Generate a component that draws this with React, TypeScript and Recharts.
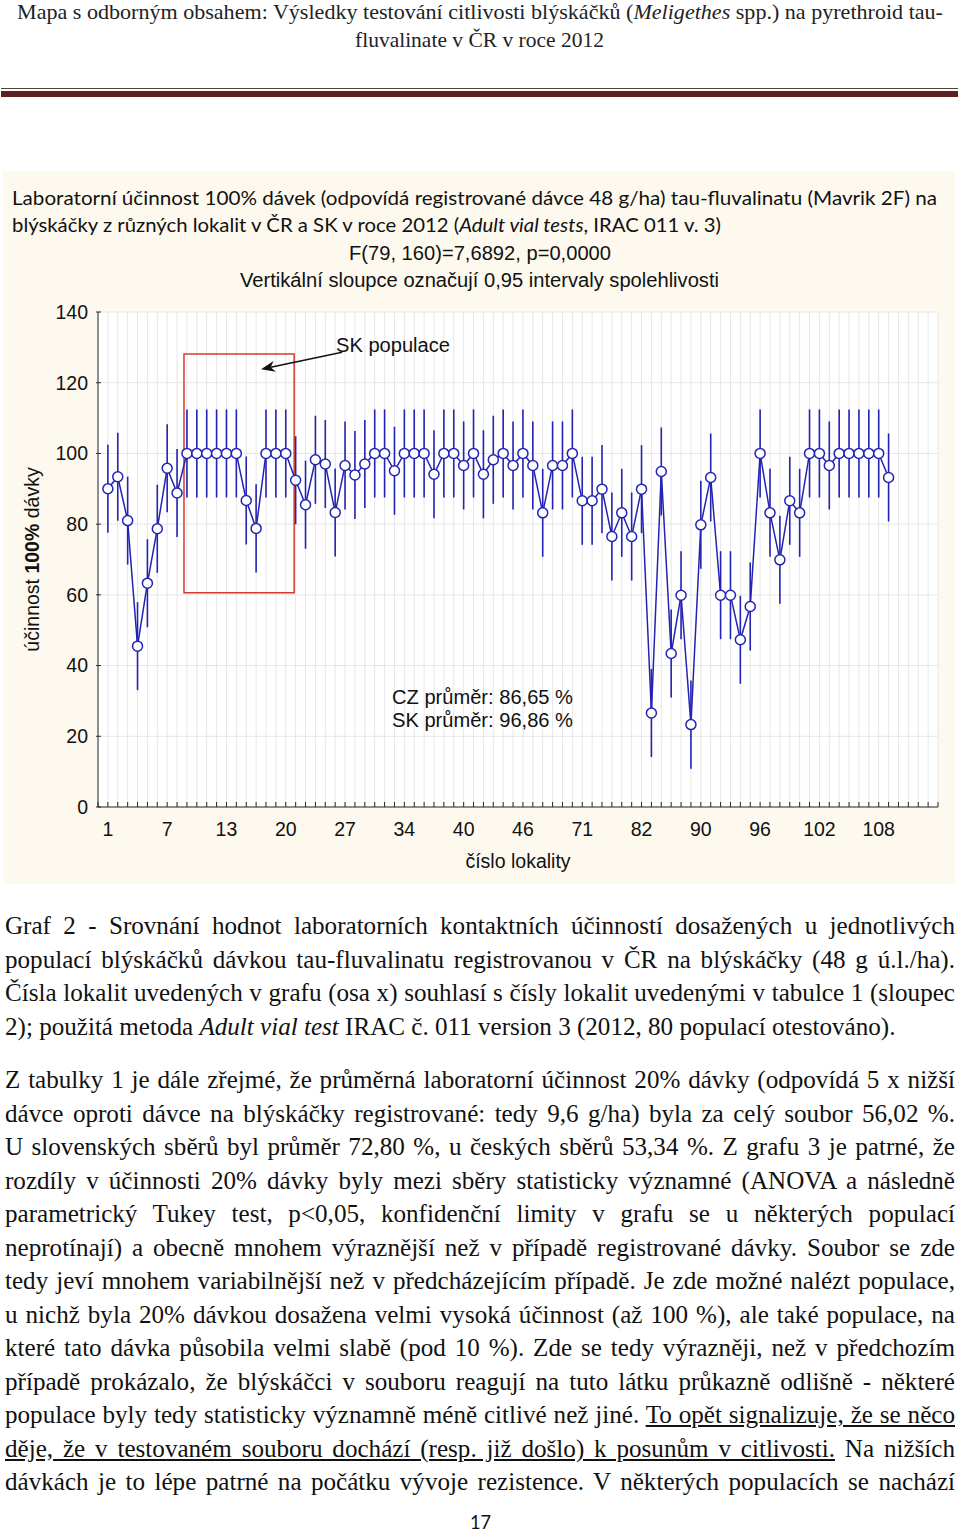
import {
  ComposedChart,
  Line,
  ErrorBar,
  XAxis,
  YAxis,
  CartesianGrid,
  ReferenceArea,
  ReferenceLine,
} from "recharts";

// mean efficacy (%) of the 100% dose, one value per tested population, in plot order
const EFFICACY = [
  90, 93.4, 81, 45.5, 63.3, 78.7, 95.8, 88.8,
  100, 100, 100, 100, 100, 100, 86.7, 78.8, 100, 100, 100,
  92.4, 85.5, 98.2, 97, 83.3, 96.6, 93.9, 97, 100, 100,
  95.1, 100, 100, 100, 94.1, 100, 100, 96.6, 100, 94.1, 98.2, 100, 96.6, 100, 96.6, 83.2, 96.6, 96.6, 100,
  86.6, 86.6, 89.9, 76.5, 83.2, 76.5, 89.9, 26.6, 94.9, 43.4, 59.9, 23.3, 79.8, 93.2,
  59.9, 59.9, 47.3, 56.7, 100, 83.2, 69.9, 86.6, 83.2, 100, 100, 96.6, 100, 100, 100, 100, 100, 93.2,
];

// half width of the 0.95 confidence interval (pooled, same for every population)
const CI_HALF = 12.45;

// labelled positions on the x axis and the locality numbers printed there
const LABEL_INDEX = [0, 6, 12, 18, 24, 30, 36, 42, 48, 54, 60, 66, 72, 78];
const LABEL_TEXT = ["1", "7", "13", "20", "27", "34", "40", "46", "71", "82", "90", "96", "102", "108"];

const Y_TICKS = [0, 20, 40, 60, 80, 100, 120, 140];

// SK populations box + arrow (data units)
const SK_BOX = { x1: 7.7, x2: 18.85, y1: 60.6, y2: 128.1 };
const SK_ARROW = [
  { x: 23.7, y: 128.6 },
  { x: 15.5, y: 123.8 },
];

const BLUE = "#2323b4";
const AXIS = "#2a2a2a";
const SANS = "'Liberation Sans', Arial, sans-serif";

const rows = EFFICACY.map((v, i) => ({ i, v, err: CI_HALF }));
const minorTicks = Array.from({ length: 86 }, (_, k) => k - 1);

function BottomTick(props: any) {
  const { x, y, payload } = props;
  const k = LABEL_INDEX.indexOf(payload.value);
  return (
    <g>
      <line x1={x} x2={x} y1={y} y2={y - 5} stroke={AXIS} strokeWidth={1} />
      {k >= 0 && (
        <text x={x} y={y + 22} dy="0.35em" textAnchor="middle" fontSize={19.5} fill="#111" fontFamily={SANS}>
          {LABEL_TEXT[k]}
        </text>
      )}
    </g>
  );
}

function TopTick(props: any) {
  const { x, y } = props;
  return <line x1={x} x2={x} y1={y} y2={y + 5} stroke={AXIS} strokeWidth={1} />;
}

function LeftTick(props: any) {
  const { x, y, payload } = props;
  return (
    <g>
      <line x1={x - 2} x2={x + 3} y1={y} y2={y} stroke={AXIS} strokeWidth={1} />
      <text x={x - 10} y={y} dy="0.35em" textAnchor="end" fontSize={19.5} fill="#111" fontFamily={SANS}>
        {payload.value}
      </text>
    </g>
  );
}

function RightTick(props: any) {
  const { x, y } = props;
  return <line x1={x - 5} x2={x} y1={y} y2={y} stroke={AXIS} strokeWidth={1} />;
}

function YTitle(props: any) {
  const vb = props.viewBox;
  const cx = vb.x + 29;
  const cy = vb.y + vb.height / 2;
  return (
    <text
      x={cx}
      y={cy}
      transform={`rotate(-90 ${cx} ${cy})`}
      textAnchor="middle"
      dy="0.35em"
      fontSize={19.5}
      fill="#111"
      fontFamily={SANS}
    >
      účinnost <tspan fontWeight="bold">100%</tspan> dávky
    </text>
  );
}

function XTitle(props: any) {
  const vb = props.viewBox;
  return (
    <text
      x={vb.x + vb.width / 2}
      y={vb.y + 54}
      dy="0.35em"
      textAnchor="middle"
      fontSize={19.5}
      fill="#111"
      fontFamily={SANS}
    >
      číslo lokality
    </text>
  );
}

function ArrowShape(p: any) {
  const { x1, y1, x2, y2 } = p;
  const a = Math.atan2(y2 - y1, x2 - x1);
  const c = Math.cos(a);
  const s = Math.sin(a);
  const L = 14;
  const W = 5.5;
  const bx = x2 - L * c;
  const by = y2 - L * s;
  const nx = x2 - L * 0.7 * c;
  const ny = y2 - L * 0.7 * s;
  const pts = [
    [x2, y2],
    [bx - W * s, by + W * c],
    [nx, ny],
    [bx + W * s, by - W * c],
  ]
    .map((q) => q.join(","))
    .join(" ");
  return (
    <g>
      <line x1={x1} y1={y1} x2={nx} y2={ny} stroke="#111" strokeWidth={1.6} />
      <polygon points={pts} fill="#111" />
    </g>
  );
}

function Chart() {
  return (
    <ComposedChart width={952} height={713} data={rows} margin={{ top: 141, right: 17, bottom: 0, left: 0 }}>
      <CartesianGrid fill="#ffffff" stroke="#e6e6e6" strokeWidth={1} />
      <XAxis
        dataKey="i"
        type="number"
        domain={[-1, 84]}
        ticks={minorTicks}
        interval={0}
        height={77}
        tickSize={0}
        tickMargin={0}
        tickLine={false}
        axisLine={{ stroke: AXIS }}
        tick={<BottomTick />}
        label={<XTitle />}
      />
      <XAxis
        xAxisId="top"
        dataKey="i"
        type="number"
        orientation="top"
        domain={[-1, 84]}
        ticks={minorTicks}
        interval={0}
        height={0}
        tickSize={0}
        tickMargin={0}
        tickLine={false}
        axisLine={{ stroke: AXIS }}
        tick={<TopTick />}
      />
      <YAxis
        type="number"
        domain={[0, 140]}
        ticks={Y_TICKS}
        interval={0}
        width={95}
        tickSize={0}
        tickMargin={0}
        tickLine={false}
        axisLine={{ stroke: AXIS }}
        tick={<LeftTick />}
        label={<YTitle />}
      />
      <YAxis
        yAxisId="right"
        orientation="right"
        type="number"
        domain={[0, 140]}
        ticks={Y_TICKS}
        interval={0}
        width={0}
        tickSize={0}
        tickMargin={0}
        tickLine={false}
        axisLine={{ stroke: AXIS }}
        tick={<RightTick />}
      />
      <ReferenceArea
        x1={SK_BOX.x1}
        x2={SK_BOX.x2}
        y1={SK_BOX.y1}
        y2={SK_BOX.y2}
        fill="none"
        fillOpacity={0}
        stroke="#d8392f"
        strokeWidth={1.5}
      />
      <ReferenceLine segment={SK_ARROW} shape={<ArrowShape />} />
      <Line
        dataKey="v"
        stroke={BLUE}
        strokeWidth={1.5}
        isAnimationActive={false}
        dot={{ r: 5, fill: "#ffffff", stroke: BLUE, strokeWidth: 1.5 }}
        activeDot={false}
      >
        <ErrorBar dataKey="err" width={0} stroke={BLUE} strokeWidth={1.6} direction="y" />
      </Line>
    </ComposedChart>
  );
}

const bodyStyle: any = {
  position: "absolute",
  left: 5,
  width: 950,
  fontFamily: "'Liberation Serif', 'Times New Roman', serif",
  fontSize: 25.1,
  lineHeight: "33.5px",
  color: "#111",
};

function JLine({ children }: any) {
  return <div style={{ textAlign: "justify", textAlignLast: "justify", whiteSpace: "normal" }}>{children}</div>;
}

export default function App() {
  const u = { textDecoration: "underline" };
  return (
    <div style={{ position: "absolute", left: 0, top: 0, width: 960, height: 1535, background: "#fff", overflow: "hidden" }}>
      <div style={{ position: "absolute", left: 1, top: 88, width: 957, height: 1, background: "#54413b" }} />
      <div style={{ position: "absolute", left: 1, top: 91, width: 957, height: 5.5, background: "#5e2020" }} />

      <div style={{ position: "absolute", left: 3, top: 171, width: 952, height: 713, background: "#fdf9ee" }}>
        <Chart />
      </div>

      <svg width={960} height={1535} style={{ position: "absolute", left: 0, top: 0, pointerEvents: "none" }}>
        <g fontFamily="'Liberation Serif', serif" fontSize={21} fill="#222">
          <text x={17} y={19} textLength={926} lengthAdjust="spacingAndGlyphs">
            Mapa s odborným obsahem: Výsledky testování citlivosti blýskáčků (<tspan fontStyle="italic">Meligethes</tspan> spp.) na pyrethroid tau-
          </text>
          <text x={355} y={47} textLength={249} lengthAdjust="spacingAndGlyphs">
            fluvalinate v ČR v roce 2012
          </text>
        </g>
        <g fontFamily="Lato, 'Open Sans', sans-serif" fontSize={19} fill="#111">
          <text x={12} y={205} textLength={925} lengthAdjust="spacingAndGlyphs">
            Laboratorní účinnost 100% dávek (odpovídá registrované dávce 48 g/ha) tau-fluvalinatu (Mavrik 2F) na
          </text>
          <text x={12} y={232} textLength={709} lengthAdjust="spacingAndGlyphs">
            blýskáčky z různých lokalit v ČR a SK v roce 2012 (<tspan fontStyle="italic">Adult vial tests</tspan>, IRAC 011 v. 3)
          </text>
        </g>
        <g fontFamily="'Liberation Sans Narrow', 'Liberation Sans', sans-serif" fontSize={19.5} fill="#111">
          <text x={349} y={260} textLength={262} lengthAdjust="spacingAndGlyphs">
            F(79, 160)=7,6892, p=0,0000
          </text>
          <text x={240} y={287} textLength={479} lengthAdjust="spacingAndGlyphs">
            Vertikální sloupce označují 0,95 intervaly spolehlivosti
          </text>
        </g>
        <g fontFamily={SANS} fontSize={19.5} fill="#111">
          <text x={336} y={352} textLength={114} lengthAdjust="spacingAndGlyphs">
            SK populace
          </text>
          <text x={392} y={704} textLength={181} lengthAdjust="spacingAndGlyphs">
            CZ průměr: 86,65 %
          </text>
          <text x={392} y={727} textLength={181} lengthAdjust="spacingAndGlyphs">
            SK průměr: 96,86 %
          </text>
        </g>
        <text x={470} y={1529} fontFamily="Lato, sans-serif" fontSize={20} fill="#111" textLength={21} lengthAdjust="spacingAndGlyphs">
          17
        </text>
      </svg>

      <div style={{ ...bodyStyle, top: 909 }}>
        <JLine>Graf 2 - Srovnání hodnot laboratorních kontaktních účinností dosažených u jednotlivých</JLine>
        <JLine>populací blýskáčků dávkou tau-fluvalinatu registrovanou v ČR na blýskáčky (48 g ú.l./ha).</JLine>
        <JLine>Čísla lokalit uvedených v grafu (osa x) souhlasí s čísly lokalit uvedenými v tabulce 1 (sloupec</JLine>
        <div>
          2); použitá metoda <i>Adult vial test</i> IRAC č. 011 version 3 (2012, 80 populací otestováno).
        </div>
      </div>

      <div style={{ ...bodyStyle, top: 1063 }}>
        <JLine>Z tabulky 1 je dále zřejmé, že průměrná laboratorní účinnost 20% dávky (odpovídá 5 x nižší</JLine>
        <JLine>dávce oproti dávce na blýskáčky registrované: tedy 9,6 g/ha) byla za celý soubor 56,02 %.</JLine>
        <JLine>U slovenských sběrů byl průměr 72,80 %, u českých sběrů 53,34 %. Z grafu 3 je patrné, že</JLine>
        <JLine>rozdíly v účinnosti 20% dávky byly mezi sběry statisticky významné (ANOVA a následně</JLine>
        <JLine>parametrický Tukey test, p&lt;0,05, konfidenční limity v grafu se u některých populací</JLine>
        <JLine>neprotínají) a obecně mnohem výraznější než v případě registrované dávky. Soubor se zde</JLine>
        <JLine>tedy jeví mnohem variabilnější než v předcházejícím případě. Je zde možné nalézt populace,</JLine>
        <JLine>u nichž byla 20% dávkou dosažena velmi vysoká účinnost (až 100 %), ale také populace, na</JLine>
        <JLine>které tato dávka působila velmi slabě (pod 10 %). Zde se tedy výrazněji, než v předchozím</JLine>
        <JLine>případě prokázalo, že blýskáčci v souboru reagují na tuto látku průkazně odlišně - některé</JLine>
        <JLine>
          populace byly tedy statisticky významně méně citlivé než jiné. <span style={u}>To opět signalizuje, že se něco</span>
        </JLine>
        <JLine>
          <span style={u}>děje, že v testovaném souboru dochází (resp. již došlo) k posunům v citlivosti.</span> Na nižších
        </JLine>
        <JLine>dávkách je to lépe patrné na počátku vývoje rezistence. V některých populacích se nachází</JLine>
      </div>
    </div>
  );
}
